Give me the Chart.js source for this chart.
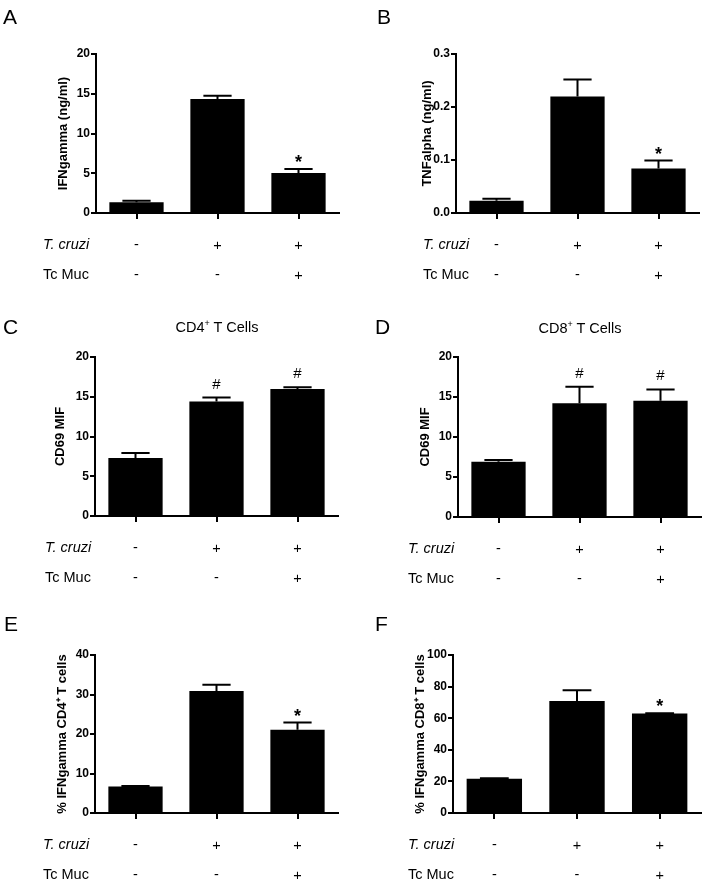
<!DOCTYPE html>
<html>
<head>
<meta charset="utf-8">
<script src="https://cdn.jsdelivr.net/npm/chart.js@4.4.1/dist/chart.umd.min.js"></script>
<style>
  body { margin: 0; background: #fff; }
  #fig { position: relative; width: 707px; height: 883px; font-family: "Liberation Sans", Arial, sans-serif; color: #000; }
  .panel { position: absolute; }
  .letter { position: absolute; font-size: 21px; line-height: 1; }
  .title { position: absolute; font-size: 14.5px; line-height: 1; white-space: nowrap; transform: translateX(-50%); }
  .title sup { font-size: 9px; vertical-align: 6px; line-height: 0; }
</style>
</head>
<body>
<div id="fig">
  <canvas id="chartA" class="panel"></canvas>
  <canvas id="chartB" class="panel"></canvas>
  <canvas id="chartC" class="panel"></canvas>
  <canvas id="chartD" class="panel"></canvas>
  <canvas id="chartE" class="panel"></canvas>
  <canvas id="chartF" class="panel"></canvas>

  <div class="letter" style="left:3px; top:6px;">A</div>
  <div class="letter" style="left:377px; top:6px;">B</div>
  <div class="letter" style="left:3px; top:316px;">C</div>
  <div class="letter" style="left:375px; top:316px;">D</div>
  <div class="letter" style="left:4px; top:613px;">E</div>
  <div class="letter" style="left:375px; top:613px;">F</div>

  <div class="title" style="left:217px; top:320px;">CD4<sup>+</sup> T Cells</div>
  <div class="title" style="left:580px; top:321px;">CD8<sup>+</sup> T Cells</div>
</div>

<script>
// groups: control, infected, infected + mucins
const groups = ['Control', 'T. cruzi', 'T. cruzi + Tc Muc'];
const tCruziRow = ['-', '+', '+'];
const tcMucRow = ['-', '-', '+'];
const rowNames = ['T. cruzi', 'Tc Muc'];

// A - IFNgamma (ng/ml)
const ifnMean = [1.34, 14.34, 5.03];
const ifnErr = [0.2, 0.42, 0.5];
const ifnMarks = ['', '', '*'];
const ifnTicks = [0, 5, 10, 15, 20];

// B - TNFalpha (ng/ml)
const tnfMean = [0.023, 0.220, 0.084];
const tnfErr = [0.004, 0.032, 0.015];
const tnfMarks = ['', '', '*'];
const tnfTicks = [0, 0.1, 0.2, 0.3];

// C - CD69 MIF on CD4+ T cells
const cd4MifMean = [7.28, 14.39, 15.98];
const cd4MifErr = [0.63, 0.51, 0.21];
const cd4MifMarks = ['', '#', '#'];
const cd4MifTicks = [0, 5, 10, 15, 20];

// D - CD69 MIF on CD8+ T cells
const cd8MifMean = [6.9, 14.23, 14.52];
const cd8MifErr = [0.21, 2.05, 1.42];
const cd8MifMarks = ['', '#', '#'];
const cd8MifTicks = [0, 5, 10, 15, 20];

// E - % IFNgamma CD4+ T cells
const cd4PctMean = [6.74, 30.9, 21.05];
const cd4PctErr = [0.1, 1.6, 1.85];
const cd4PctMarks = ['', '', '*'];
const cd4PctTicks = [0, 10, 20, 30, 40];

// F - % IFNgamma CD8+ T cells
const cd8PctMean = [21.7, 70.9, 62.9];
const cd8PctErr = [0.25, 6.8, 0.3];
const cd8PctMarks = ['', '', '*'];
const cd8PctTicks = [0, 20, 40, 60, 80, 100];

const FONT = '"Liberation Sans", Arial, sans-serif';

// upper error bars + significance marks
const errorBarPlugin = {
  id: 'errorBars',
  afterDatasetsDraw(chart) {
    const ctx = chart.ctx;
    const y = chart.scales.y;
    const ds = chart.data.datasets[0];
    const meta = chart.getDatasetMeta(0);
    ctx.save();
    ctx.strokeStyle = '#000';
    ctx.lineWidth = 2;
    meta.data.forEach((bar, i) => {
      const top = y.getPixelForValue(ds.data[i] + ds.errors[i]);
      const half = bar.width * 0.26;
      ctx.beginPath();
      ctx.moveTo(bar.x, bar.y);
      ctx.lineTo(bar.x, top);
      ctx.moveTo(bar.x - half, top);
      ctx.lineTo(bar.x + half, top);
      ctx.stroke();
      const mark = ds.marks[i];
      if (mark) {
        ctx.fillStyle = '#000';
        ctx.textAlign = 'center';
        ctx.textBaseline = 'alphabetic';
        if (mark === '*') {
          ctx.font = 'bold 18px ' + FONT;
          ctx.fillText(mark, bar.x, top - 1);
        } else {
          ctx.font = '15px ' + FONT;
          ctx.fillText(mark, bar.x, top - 9);
        }
      }
    });
    ctx.restore();
  }
};

// the +/- table under the x axis
const signRowsPlugin = {
  id: 'signRows',
  afterDraw(chart, args, opts) {
    const ctx = chart.ctx;
    const x = chart.scales.x;
    const base = chart.chartArea.bottom;
    const rows = [tCruziRow, tcMucRow];
    ctx.save();
    ctx.fillStyle = '#000';
    ctx.textBaseline = 'middle';
    rows.forEach((row, r) => {
      const yy = base + 32 + r * 30;
      ctx.textAlign = 'left';
      ctx.font = (r === 0 ? 'italic ' : '') + '14.5px ' + FONT;
      ctx.fillText(rowNames[r], opts.nameX, yy);
      ctx.textAlign = 'center';
      ctx.font = '14.5px ' + FONT;
      row.forEach((s, i) => ctx.fillText(s, x.getPixelForValue(i), yy + (s === '-' ? 0 : 1)));
    });
    ctx.restore();
  }
};

function makePanel(id, box, mean, err, marks, ticks, yTitle, decimals) {
  const canvas = document.getElementById(id);
  canvas.width = box.w;
  canvas.height = box.h;
  canvas.style.left = box.x + 'px';
  canvas.style.top = box.y + 'px';
  canvas.style.width = box.w + 'px';
  canvas.style.height = box.h + 'px';

  return new Chart(canvas, {
    type: 'bar',
    data: {
      labels: groups,
      datasets: [{
        data: mean,
        errors: err,
        marks: marks,
        backgroundColor: '#000',
        borderWidth: 0,
        categoryPercentage: 1,
        barPercentage: 0.67
      }]
    },
    plugins: [errorBarPlugin, signRowsPlugin],
    options: {
      responsive: false,
      animation: false,
      devicePixelRatio: 1,
      layout: { padding: { top: box.top, right: box.w - box.right, left: 0, bottom: 0 } },
      plugins: {
        legend: { display: false },
        tooltip: { enabled: false },
        signRows: { nameX: box.nameX }
      },
      scales: {
        x: {
          offset: true,
          grid: { drawOnChartArea: false, offset: false, tickLength: 6, color: '#000', lineWidth: 2 },
          border: { color: '#000', width: 2 },
          ticks: { display: false },
          afterFit: s => { s.height = box.h - box.bottom; }
        },
        y: {
          min: ticks[0],
          max: ticks[ticks.length - 1],
          afterBuildTicks: s => { s.ticks = ticks.map(v => ({ value: v })); },
          grid: { drawOnChartArea: false, tickLength: 5, color: '#000', lineWidth: 2 },
          border: { color: '#000', width: 2 },
          ticks: {
            color: '#000',
            padding: 1,
            font: { family: FONT, size: 12, weight: 'bold' },
            callback: v => v.toFixed(decimals)
          },
          title: {
            display: true,
            text: yTitle,
            color: '#000',
            font: { family: FONT, size: 13, weight: 'bold' },
            padding: { top: box.titleX - 7.8, bottom: 0 }
          },
          afterFit: s => { s.width = box.left; }
        }
      }
    }
  });
}

makePanel('chartA', { x: 0, y: 0, w: 353, h: 290, left: 96, right: 339, top: 54, bottom: 213, titleX: 63, nameX: 43 },
  ifnMean, ifnErr, ifnMarks, ifnTicks, 'IFNgamma (ng/ml)', 0);
makePanel('chartB', { x: 353, y: 0, w: 354, h: 290, left: 103, right: 346, top: 54, bottom: 213, titleX: 74, nameX: 70 },
  tnfMean, tnfErr, tnfMarks, tnfTicks, 'TNFalpha (ng/ml)', 1);
makePanel('chartC', { x: 0, y: 290, w: 353, h: 300, left: 95, right: 338, top: 67, bottom: 226, titleX: 60, nameX: 45 },
  cd4MifMean, cd4MifErr, cd4MifMarks, cd4MifTicks, 'CD69 MIF', 0);
makePanel('chartD', { x: 353, y: 290, w: 354, h: 300, left: 105, right: 348, top: 67, bottom: 227, titleX: 72, nameX: 55 },
  cd8MifMean, cd8MifErr, cd8MifMarks, cd8MifTicks, 'CD69 MIF', 0);
makePanel('chartE', { x: 0, y: 590, w: 353, h: 293, left: 95, right: 338, top: 65, bottom: 223, titleX: 62, nameX: 43 },
  cd4PctMean, cd4PctErr, cd4PctMarks, cd4PctTicks, '% IFNgamma CD4\u207A T cells', 0);
makePanel('chartF', { x: 353, y: 590, w: 354, h: 293, left: 100, right: 348, top: 65, bottom: 223, titleX: 67, nameX: 55 },
  cd8PctMean, cd8PctErr, cd8PctMarks, cd8PctTicks, '% IFNgamma CD8\u207A T cells', 0);
</script>
</body>
</html>
